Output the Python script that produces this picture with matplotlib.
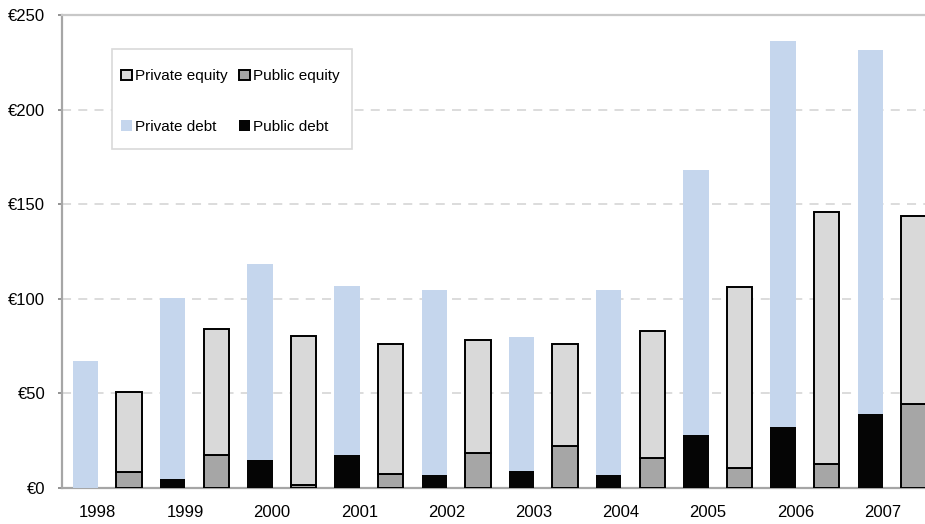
import numpy as np
import matplotlib
matplotlib.use('Agg')
import matplotlib.pyplot as plt
from matplotlib.patches import Rectangle

plt.rcParams['font.family'] = ['Liberation Sans', 'DejaVu Sans']

# Data (EUR billions)
years = ['1998', '1999', '2000', '2001', '2002', '2003', '2004', '2005', '2006', '2007']
public_debt = [0, 4.5, 15, 17.5, 7, 9, 7, 28, 32, 39]
debt_total = [67, 100.5, 118.5, 107, 104.5, 80, 104.5, 168, 236, 231.5]
public_equity = [8.5, 17.5, 1.5, 7.5, 18.5, 22, 16, 10.5, 12.5, 44.5]
equity_total = [51, 84, 80.5, 76, 78, 76, 83, 106, 146, 144]

private_debt = [t - p for t, p in zip(debt_total, public_debt)]
private_equity = [t - p for t, p in zip(equity_total, public_equity)]

c_priv_debt = '#c5d6ed'
c_pub_debt = '#050505'
c_priv_eq = '#d9d9d9'
c_pub_eq = '#a6a6a6'

x = np.arange(len(years))
w = 0.29

fig = plt.figure(figsize=(9.25, 5.24), dpi=100)
ax = fig.add_axes([62 / 925, 36 / 524, 1 - 62 / 925, 473 / 524])

# debt bars (no outline)
h_pub_debt = ax.bar(x, public_debt, w, color=c_pub_debt, zorder=3)
h_priv_debt = ax.bar(x, private_debt, w, bottom=public_debt, color=c_priv_debt, zorder=3)

# equity bars (black outline)
h_pub_eq = ax.bar(x + 0.5, public_equity, w, color=c_pub_eq, edgecolor='black',
                  linewidth=1.4, zorder=3)
h_priv_eq = ax.bar(x + 0.5, private_equity, w, bottom=public_equity, color=c_priv_eq,
                   edgecolor='black', linewidth=1.4, zorder=3)

ax.set_xlim(-0.27, 9.627)
ax.set_ylim(0, 250)

ax.set_yticks([0, 50, 100, 150, 200, 250])
ax.set_yticklabels(['€0', '€50', '€100', '€150', '€200', '€250'])
ax.set_xticks(x + 0.14)
ax.set_xticklabels(years)
ax.tick_params(axis='y', length=3, width=1.2, color='#808080', pad=9, labelsize=12)
ax.tick_params(axis='x', length=0, pad=12, labelsize=12)

for y in [50, 100, 150, 200]:
    ax.axhline(y, color='#d9d9d9', linewidth=1.3, linestyle=(0, (5, 4)), zorder=1)

for side in ['left', 'bottom', 'top']:
    ax.spines[side].set_color('#a6a6a6')
    ax.spines[side].set_linewidth(1.6)
ax.spines['top'].set_color('#c8c8c8')
ax.spines['right'].set_visible(False)

# legend frame drawn separately so the roomy Excel-style box can be matched
frame = Rectangle((0.0579, 0.7167), 0.278, 0.2113, transform=ax.transAxes,
                  facecolor='white', edgecolor='#d9d9d9', linewidth=1.2, zorder=4)
ax.add_patch(frame)

leg = ax.legend([h_priv_eq, h_priv_debt, h_pub_eq, h_pub_debt],
                ['Private equity', 'Private debt', 'Public equity', 'Public debt'],
                ncol=2, loc='upper left', bbox_to_anchor=(0.0684, 0.885),
                borderaxespad=0, borderpad=0, fontsize=11, frameon=False,
                handlelength=0.7, handleheight=0.7, handletextpad=0.22,
                columnspacing=0.75, labelspacing=2.4)
leg.set_zorder(5)

fig.savefig('out.png', dpi=100)
